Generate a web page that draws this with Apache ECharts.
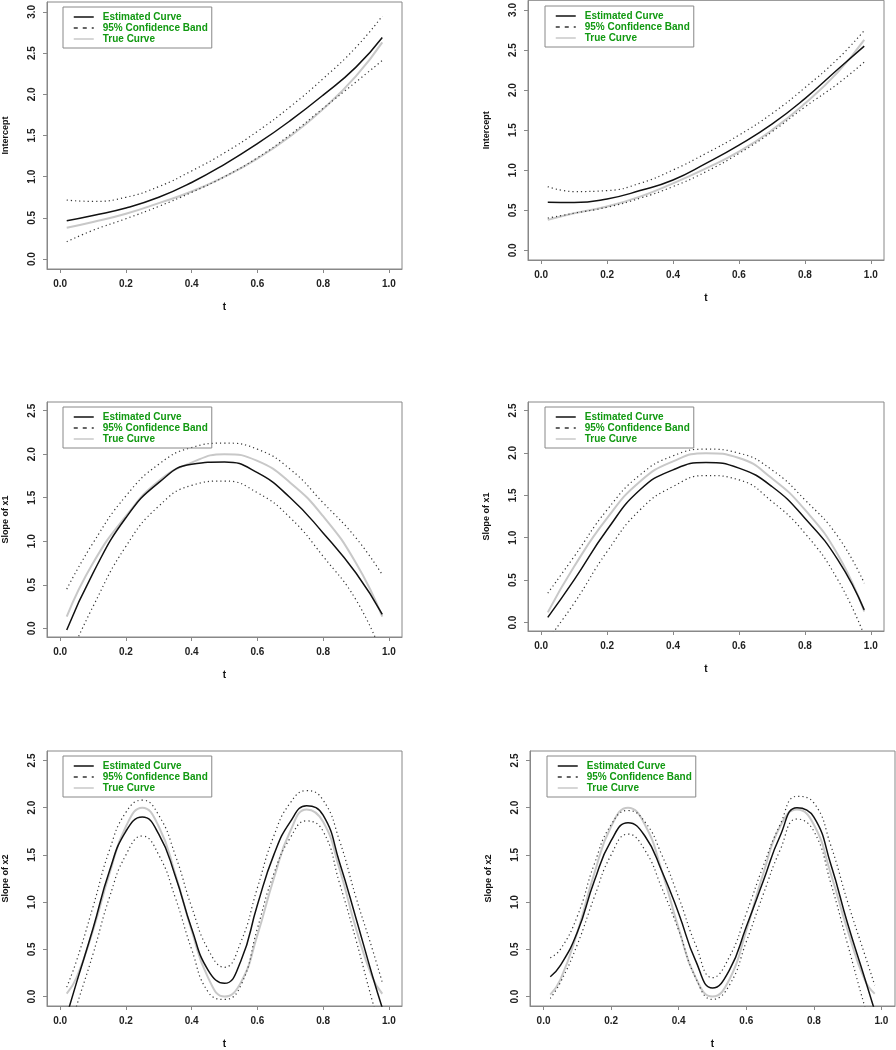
<!DOCTYPE html>
<html>
<head>
<meta charset="utf-8">
<script src="https://cdn.jsdelivr.net/npm/echarts@6/dist/echarts.min.js"></script>
<style>
html, body { margin: 0; padding: 0; background: #fff; }
#main { width: 896px; height: 1050px; }
</style>
</head>
<body>
<div id="main"></div>
<script>
// t grids
const tCoarse = [0.02, 0.1, 0.2, 0.3, 0.4, 0.5, 0.6, 0.7, 0.8, 0.9, 0.98];
const tFine = [0.02, 0.05, 0.1, 0.15, 0.2, 0.25, 0.3, 0.35, 0.4, 0.45, 0.5,
               0.55, 0.6, 0.65, 0.7, 0.75, 0.8, 0.85, 0.9, 0.95, 0.98];

const xTicks = [0, 0.2, 0.4, 0.6, 0.8, 1.0];
const yTicksIntercept = [0, 0.5, 1.0, 1.5, 2.0, 2.5, 3.0];
const yTicksSlope = [0, 0.5, 1.0, 1.5, 2.0, 2.5];

// panel 1: intercept (left)
const est1 = [0.465, 0.53, 0.62, 0.75, 0.93, 1.15, 1.40, 1.68, 1.99, 2.33, 2.69];
const up1 = [0.716, 0.70, 0.75, 0.88, 1.07, 1.29, 1.55, 1.85, 2.19, 2.57, 2.95];
const lo1 = [0.21, 0.35, 0.49, 0.64, 0.81, 1.0, 1.23, 1.51, 1.83, 2.15, 2.41];
const true1 = [0.38, 0.45, 0.55, 0.68, 0.82, 1.0, 1.22, 1.49, 1.82, 2.22, 2.63];

// panel 2: intercept (right)
const est2 = [0.60, 0.597, 0.642, 0.746, 0.879, 1.086, 1.314, 1.575, 1.894, 2.26, 2.549];
const up2 = [0.796, 0.734, 0.746, 0.837, 1.003, 1.21, 1.438, 1.707, 2.03, 2.391, 2.743];
const lo2 = [0.402, 0.464, 0.539, 0.651, 0.796, 0.982, 1.21, 1.479, 1.79, 2.08, 2.35];
const true2 = [0.381, 0.464, 0.547, 0.671, 0.837, 1.024, 1.231, 1.5, 1.832, 2.225, 2.627];

// panel 3: slope of x1 (left)
const est3 = [-0.02, 0.635, 1.27, 1.673, 1.885, 1.91, 1.788, 1.5, 1.096, 0.635, 0.16];
const up3 = [0.45, 0.98, 1.52, 1.885, 2.077, 2.127, 2.058, 1.827, 1.442, 1.038, 0.615];
const lo3 = [-0.4, 0.25, 0.942, 1.404, 1.642, 1.692, 1.558, 1.27, 0.827, 0.327, -0.3];
const true3 = [0.135, 0.75, 1.288, 1.692, 1.904, 2.0, 1.923, 1.673, 1.288, 0.75, 0.135];

// panel 4: slope of x1 (right)
const est4 = [0.06, 0.503, 1.093, 1.565, 1.8, 1.887, 1.82, 1.604, 1.23, 0.739, 0.149];
const up4 = [0.346, 0.778, 1.329, 1.741, 1.965, 2.044, 1.997, 1.8, 1.447, 1.014, 0.464];
const lo4 = [-0.2, 0.228, 0.837, 1.329, 1.604, 1.733, 1.682, 1.427, 1.053, 0.503, -0.15];
const true4 = [0.12, 0.66, 1.23, 1.663, 1.9, 1.997, 1.94, 1.7, 1.33, 0.8, 0.13];

// panel 5: slope of x2 (left)
const est5 = [-0.2, 0.15, 0.72, 1.33, 1.75, 1.90, 1.72, 1.28, 0.72, 0.28, 0.14,
              0.38, 0.97, 1.50, 1.85, 2.02, 1.92, 1.42, 0.83, 0.22, -0.12];
const up5 = [0.1, 0.38, 0.95, 1.55, 1.95, 2.08, 1.92, 1.5, 0.95, 0.5, 0.31,
             0.58, 1.15, 1.7, 2.05, 2.18, 2.08, 1.65, 1.05, 0.5, 0.15];
const lo5 = [-0.45, -0.1, 0.45, 1.05, 1.5, 1.70, 1.5, 1.05, 0.5, 0.05, -0.03,
             0.12, 0.72, 1.3, 1.68, 1.86, 1.75, 1.2, 0.6, -0.05, -0.4];
const true5 = [0.03, 0.2, 0.7, 1.3, 1.8, 2.0, 1.8, 1.3, 0.7, 0.2, 0.0,
               0.15, 0.65, 1.25, 1.75, 1.98, 1.85, 1.35, 0.72, 0.2, 0.03];

// panel 6: slope of x2 (right)
const est6 = [0.21, 0.33, 0.68, 1.22, 1.65, 1.84, 1.7, 1.33, 0.88, 0.38, 0.09,
              0.28, 0.74, 1.22, 1.7, 2.0, 1.9, 1.4, 0.77, 0.2, -0.15];
const up6 = [0.41, 0.5, 0.85, 1.4, 1.82, 1.97, 1.85, 1.5, 1.05, 0.55, 0.2,
             0.42, 0.88, 1.38, 1.82, 2.12, 2.05, 1.6, 1.0, 0.45, 0.12];
const lo6 = [-0.02, 0.15, 0.55, 1.05, 1.5, 1.72, 1.55, 1.15, 0.7, 0.2, -0.03,
             0.12, 0.58, 1.08, 1.55, 1.88, 1.75, 1.2, 0.55, -0.1, -0.45];
const true6 = [0.02, 0.18, 0.68, 1.3, 1.8, 2.0, 1.82, 1.33, 0.72, 0.2, 0.0,
               0.18, 0.7, 1.3, 1.8, 1.98, 1.82, 1.3, 0.7, 0.18, 0.03];

const panels = [
    { rect: [47, 2, 355, 267], legend: [63, 7], t: tCoarse, est: est1, up: up1, lo: lo1, tr: true1,
      yMin: -0.12, yMax: 3.12, yTicks: yTicksIntercept, yName: 'Intercept' },
    { rect: [528, 0, 356, 260], legend: [545, 6], t: tCoarse, est: est2, up: up2, lo: lo2, tr: true2,
      yMin: -0.12, yMax: 3.12, yTicks: yTicksIntercept, yName: 'Intercept' },
    { rect: [47, 402, 355, 235], legend: [63, 407], t: tCoarse, est: est3, up: up3, lo: lo3, tr: true3,
      yMin: -0.1, yMax: 2.6, yTicks: yTicksSlope, yName: 'Slope of x1' },
    { rect: [528, 402, 356, 229], legend: [545, 407], t: tCoarse, est: est4, up: up4, lo: lo4, tr: true4,
      yMin: -0.1, yMax: 2.6, yTicks: yTicksSlope, yName: 'Slope of x1' },
    { rect: [47, 751, 355, 260], legend: [63, 756], t: tFine, est: est5, up: up5, lo: lo5, tr: true5,
      yMin: -0.1, yMax: 2.6, yTicks: yTicksSlope, yName: 'Slope of x2' },
    { rect: [530, 751, 365, 260], legend: [547, 756], t: tFine, est: est6, up: up6, lo: lo6, tr: true6,
      yMin: -0.1, yMax: 2.6, yTicks: yTicksSlope, yName: 'Slope of x2' }
];

const FONT = '"Liberation Sans", Arial, sans-serif';
const fmt = v => Number(v).toFixed(1);
const pairs = (t, y) => t.map((x, i) => [x, y[i]]);

let grid = [], xAxis = [], yAxis = [], series = [], legend = [];

panels.forEach((p, i) => {
    grid.push({
        left: p.rect[0], top: p.rect[1], width: p.rect[2], height: p.rect[3],
        show: true, borderColor: '#888', borderWidth: 1, backgroundColor: 'transparent'
    });
    xAxis.push({
        gridIndex: i, type: 'value', min: -0.04, max: 1.04, position: 'bottom',
        axisLine: { show: true, onZero: false, lineStyle: { color: '#888', width: 1 } },
        axisTick: { show: true, length: 4, lineStyle: { color: '#888' }, customValues: xTicks },
        axisLabel: { customValues: xTicks, formatter: fmt, fontFamily: FONT, fontWeight: 'bold',
                     fontSize: 10, color: '#222', margin: 10 },
        splitLine: { show: false },
        name: 't', nameLocation: 'middle', nameGap: 33,
        nameTextStyle: { fontFamily: FONT, fontWeight: 'bold', fontSize: 10, color: '#111' }
    });
    yAxis.push({
        gridIndex: i, type: 'value', min: p.yMin, max: p.yMax, position: 'left',
        axisLine: { show: true, onZero: false, lineStyle: { color: '#888', width: 1 } },
        axisTick: { show: true, length: 4, lineStyle: { color: '#888' }, customValues: p.yTicks },
        axisLabel: { customValues: p.yTicks, formatter: fmt, rotate: 90, fontFamily: FONT,
                     fontWeight: 'bold', fontSize: 10, color: '#222', margin: 10 },
        splitLine: { show: false },
        name: p.yName, nameLocation: 'middle', nameRotate: 90, nameGap: 37,
        nameTextStyle: { fontFamily: FONT, fontWeight: 'bold', fontSize: 9, color: '#111' }
    });

    const base = { type: 'line', xAxisIndex: i, yAxisIndex: i, symbol: 'none', smooth: true,
                   silent: true, animation: false };
    series.push(Object.assign({}, base, {
        name: 'True Curve', data: pairs(p.t, p.tr),
        lineStyle: { color: '#c8c8c8', width: 2 }, itemStyle: { color: '#c8c8c8' }
    }));
    series.push(Object.assign({}, base, {
        name: '95% Confidence Band', data: pairs(p.t, p.up),
        lineStyle: { color: '#333', width: 1.2, type: [1.2, 3] }, itemStyle: { color: '#333' }
    }));
    series.push(Object.assign({}, base, {
        name: '95% Confidence Band', data: pairs(p.t, p.lo),
        lineStyle: { color: '#333', width: 1.2, type: [1.2, 3] }, itemStyle: { color: '#333' }
    }));
    series.push(Object.assign({}, base, {
        name: 'Estimated Curve', data: pairs(p.t, p.est),
        lineStyle: { color: '#111', width: 1.5 }, itemStyle: { color: '#111' }
    }));

    // legend line icons only, no symbol dots
    const noDot = { color: 'transparent', borderWidth: 0, opacity: 0 };
    legend.push({
        left: p.legend[0], top: p.legend[1], orient: 'vertical',
        show: true, selectedMode: false,
        borderColor: '#888', borderWidth: 1, padding: [5, 4, 4, 10],
        itemWidth: 20, itemHeight: 8, itemGap: 1,
        itemStyle: noDot,
        textStyle: { fontFamily: FONT, fontWeight: 'bold', fontSize: 10, color: '#119911',
                     lineHeight: 10, padding: [0, 0, 0, 4] },
        data: [
            { name: 'Estimated Curve', itemStyle: noDot, lineStyle: { type: 'solid', width: 1.5 } },
            { name: '95% Confidence Band', itemStyle: noDot, lineStyle: { type: [4, 5], width: 1.5 } },
            { name: 'True Curve', itemStyle: noDot, lineStyle: { width: 1.5 } }
        ]
    });
});

const chart = echarts.init(document.getElementById('main'));
chart.setOption({
    animation: false,
    backgroundColor: '#fff',
    grid: grid,
    xAxis: xAxis,
    yAxis: yAxis,
    legend: legend,
    series: series
});
</script>
</body>
</html>
